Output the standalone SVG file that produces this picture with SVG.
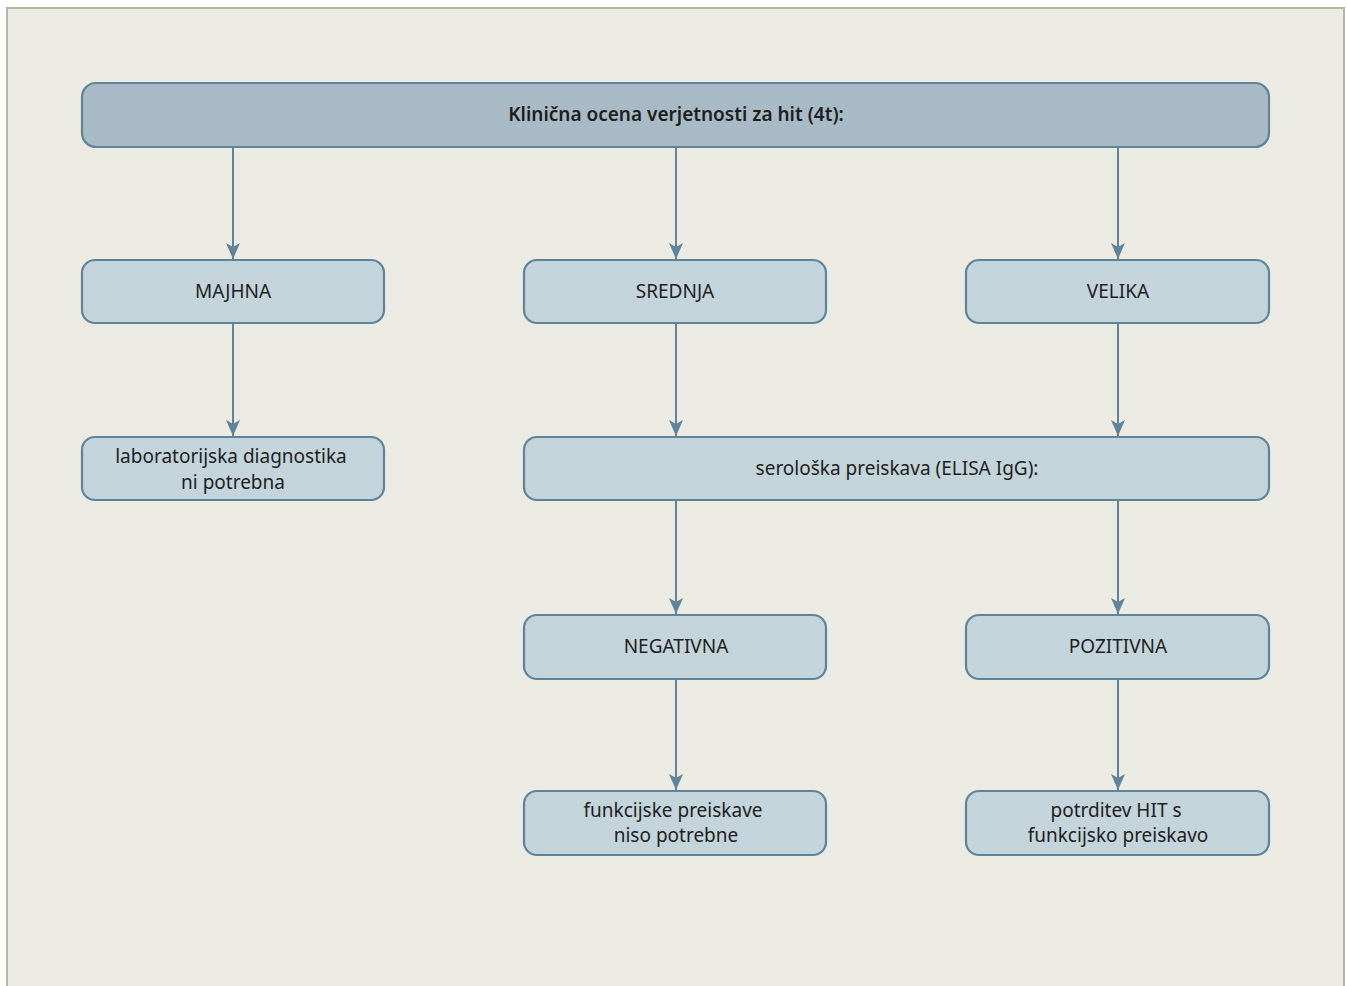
<svg xmlns="http://www.w3.org/2000/svg" width="1347" height="986" viewBox="0 0 1347 986">
<defs>
<marker id="ah" viewBox="0 0 16 14" refX="16" refY="7" markerWidth="16" markerHeight="14" markerUnits="userSpaceOnUse" orient="auto">
<path d="M0,0 L16,7 L0,14 L4,7 Z" fill="#5f8499"/>
</marker>
<style>
.box{fill:#c3d4da;stroke:#5f8499;stroke-width:2.2}
.top{fill:#a7bac5;stroke:#5f8499;stroke-width:2.2}
.t{font-family:"Noto Sans","Open Sans",sans-serif;font-size:19px;fill:#1e1e1e;text-anchor:middle}
.tb{font-weight:600}
.c{stroke:#5f8499;stroke-width:2;fill:none;marker-end:url(#ah)}
</style>
</defs>
<rect x="0" y="0" width="1347" height="986" fill="#ffffff"/>
<rect x="7" y="8" width="1337" height="990" fill="#ebebe3" stroke="#b8b5a5" stroke-width="2"/>
<g id="connectors">
<line class="c" x1="233" y1="148" x2="233" y2="259"/>
<line class="c" x1="676" y1="148" x2="676" y2="259"/>
<line class="c" x1="1118" y1="148" x2="1118" y2="259"/>
<line class="c" x1="233" y1="324" x2="233" y2="436"/>
<line class="c" x1="676" y1="324" x2="676" y2="436"/>
<line class="c" x1="1118" y1="324" x2="1118" y2="436"/>
<line class="c" x1="676" y1="501" x2="676" y2="614"/>
<line class="c" x1="1118" y1="501" x2="1118" y2="614"/>
<line class="c" x1="676" y1="680" x2="676" y2="790"/>
<line class="c" x1="1118" y1="680" x2="1118" y2="790"/>
</g>
<g id="n-top"><rect class="top" x="82" y="83" width="1187" height="64" rx="14"/><text class="t tb" x="676" y="121">Klinična ocena verjetnosti za hit (4t):</text></g>
<g id="n-majhna"><rect class="box" x="82" y="260" width="302" height="63" rx="13"/><text class="t" x="233" y="298">MAJHNA</text></g>
<g id="n-srednja"><rect class="box" x="524" y="260" width="302" height="63" rx="13"/><text class="t" x="675" y="298">SREDNJA</text></g>
<g id="n-velika"><rect class="box" x="966" y="260" width="303" height="63" rx="13"/><text class="t" x="1118" y="298">VELIKA</text></g>
<g id="n-lab"><rect class="box" x="82" y="437" width="302" height="63" rx="13"/><text class="t" x="231" y="463">laboratorijska diagnostika</text><text class="t" x="233" y="489">ni potrebna</text></g>
<g id="n-sero"><rect class="box" x="524" y="437" width="745" height="63" rx="13"/><text class="t" x="897" y="475">serološka preiskava (ELISA IgG):</text></g>
<g id="n-neg"><rect class="box" x="524" y="615" width="302" height="64" rx="13"/><text class="t" x="676" y="653">NEGATIVNA</text></g>
<g id="n-poz"><rect class="box" x="966" y="615" width="303" height="64" rx="13"/><text class="t" x="1118" y="653">POZITIVNA</text></g>
<g id="n-func"><rect class="box" x="524" y="791" width="302" height="64" rx="13"/><text class="t" x="673" y="817">funkcijske preiskave</text><text class="t" x="676" y="842">niso potrebne</text></g>
<g id="n-potr"><rect class="box" x="966" y="791" width="303" height="64" rx="13"/><text class="t" x="1116" y="817">potrditev HIT s</text><text class="t" x="1118" y="842">funkcijsko preiskavo</text></g>
</svg>
